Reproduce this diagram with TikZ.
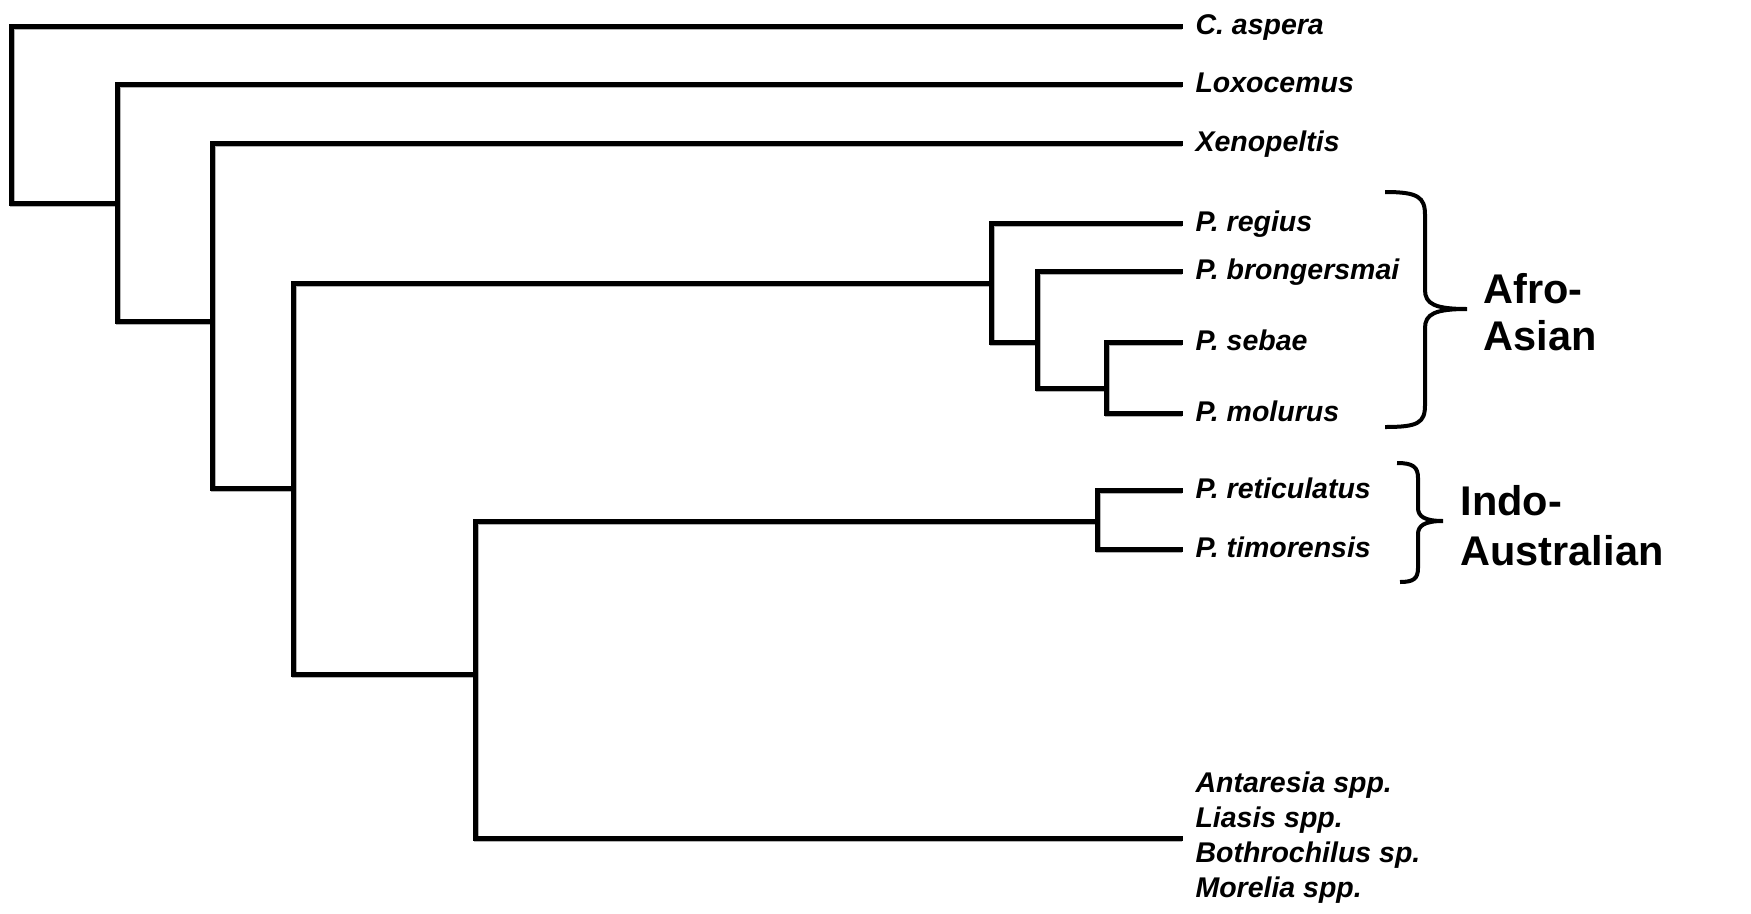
\documentclass[tikz,border=0pt]{standalone}
\usepackage{fontspec}
\setmainfont{Liberation Sans}
\usetikzlibrary{positioning}

\begin{document}
\begin{tikzpicture}[%
      x=0.4pt, y=-0.4pt,
      branch/.style={line width=2pt, line join=miter, line cap=rect,
        preaction={draw=black!30, line width=2pt, transform canvas={shift={(0.7pt,-0.7pt)}}}},
      taxon/.style={anchor=west, inner xsep=6pt, inner ysep=0pt, align=left,
        text height=0.9em, text depth=0.2em,
        font=\fontsize{11.4}{14}\selectfont\bfseries\itshape},
      clade/.style={anchor=west, inner sep=0pt, align=left,
        font=\fontsize{16.6}{18.8}\selectfont\bfseries},
      brace/.style={line width=1.6pt}
    ]
    \useasboundingbox (0,0) rectangle (1751,913);
    % leaves
    \node [taxon] (t0) at (1180,26) {C. aspera};
    \node [taxon] (t1) at (1180,84) {Loxocemus};
    \node [taxon] (t2) at (1180,143) {Xenopeltis};
    \node [taxon] (t3) at (1180,223) {P. regius};
    \node [taxon] (t4) at (1180,271) {P. brongersmai};
    \node [taxon] (t5) at (1180,342) {P. sebae};
    \node [taxon] (t6) at (1180,413) {P. molurus};
    \node [taxon] (t7) at (1180,490) {P. reticulatus};
    \node [taxon] (t8) at (1180,549) {P. timorensis};
    \node [taxon, text height=, text depth=] (t9) at (1180,838) {Antaresia spp.\\Liasis spp.\\Bothrochilus sp.\\Morelia spp.};
    % inner nodes
    \coordinate (n0) at (11,203);
    \coordinate (n1) at (117,203);
    \coordinate (n2) at (212,321);
    \coordinate (n3) at (293,488);
    \coordinate (n4) at (991,283);
    \coordinate (n5) at (1037,342);
    \coordinate (n6) at (1106,388);
    \coordinate (n7) at (475,674);
    \coordinate (n8) at (1097,521);
    % branches
    \foreach \a/\n/\b in {t0.west/n0/n1, t1.west/n1/n2, t2.west/n2/n3, n4/n3/n7,
      t3.west/n4/n5, t4.west/n5/n6, t5.west/n6/t6.west, n8/n7/t9.west, t7.west/n8/t8.west}
      \draw [branch] (\a) -| (\n) |- (\b);
    % clades
    \node [clade] (c0) at (1483,312) {Afro-\\Asian};
    \node [clade, font=\fontsize{16.6}{20}\selectfont\bfseries] (c1) at (1460,526) {Indo-\\Australian};
    \draw [brace] (1385,192) .. controls (1418,192) and (1425,197) .. (1425,215) -- (1425,290)
      .. controls (1425,304) and (1435,309) .. (1467,309)
      .. controls (1435,309) and (1425,314) .. (1425,328) -- (1425,405)
      .. controls (1425,423) and (1418,427) .. (1385,427);
    \draw [brace] (1397,463) .. controls (1413,463) and (1418,467) .. (1418,478) -- (1418,508)
      .. controls (1418,516) and (1424,521) .. (1443,521)
      .. controls (1424,521) and (1418,526) .. (1418,534) -- (1418,568)
      .. controls (1418,579) and (1413,582) .. (1400,582);
  \end{tikzpicture}
\end{document}
